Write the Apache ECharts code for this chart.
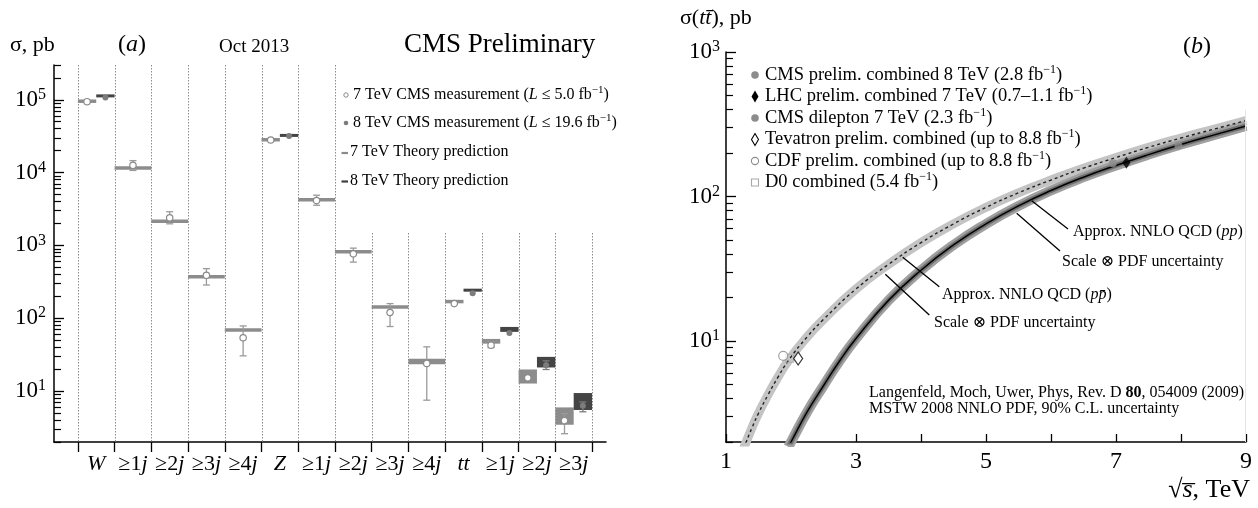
<!DOCTYPE html>
<html>
<head>
<meta charset="utf-8">
<script src="https://cdn.jsdelivr.net/npm/echarts@6/dist/echarts.min.js"></script>
<style>
  html, body { margin: 0; padding: 0; background: #fff; }
  #chart { width: 1258px; height: 508px; }
</style>
</head>
<body>
<div id="chart"></div>
<script>
// ---------- Panel (a): W, Z and tt cross sections vs jet multiplicity ----------
const categories = ['W', '≥1j', '≥2j', '≥3j', '≥4j', 'Z', '≥1j', '≥2j', '≥3j', '≥4j', 'tt', '≥1j', '≥2j', '≥3j'];

// 7 TeV theory prediction band (pb)
const theory7Lo = [93000, 11200, 2080, 360, 66, 27500, 4100, 790, 138, 23.4, 165, 44.8, 12.7, 3.45];
const theory7Hi = [98000, 12000, 2220, 385, 72, 29000, 4350, 850, 148, 27.7, 174, 52, 19.8, 5.97];
// 7 TeV measurement with its total uncertainty range (pb)
const meas7   = [94000, 12600, 2390, 388, 54, 28000, 4130, 766, 120, 24, 159, 42.7, 15.2, 3.92];
const meas7Lo = [91000, 10700, 1980, 286, 30.5, 27000, 3560, 590, 77, 7.5, 154, 39.6, 14.9, 2.6];
const meas7Hi = [97000, 14600, 2900, 480, 78.5, 29000, 4890, 918, 159, 40.5, 165, 47.9, 15.5, 4.9];

// 8 TeV results exist for these category indices only
const cats8     = [0, 5, 10, 11, 12, 13];
const theory8Lo = [110000, 31500, 236, 65, 21.1, 5.5];
const theory8Hi = [116000, 33300, 250, 76, 29.5, 9.4];
const meas8     = [107000, 31800, 220, 62.8, 22.7, 6.3];
const meas8Lo   = [103000, 30800, 207, 58, 19.8, 5.2];
const meas8Hi   = [111000, 32800, 232, 68.6, 26, 7.1];

// y-axis tick labels of panel (a)
const yLabelsA = [10, 100, 1000, 10000, 100000];

// ---------- Panel (b): tt cross section vs collision energy ----------
const ppEnergy    = [1.96, 2.0, 2.25, 2.5, 2.75, 3.0, 3.5, 4.0, 4.5, 5.0, 5.5, 6.0, 6.5, 7.0, 7.5, 8.0, 8.5, 9.0];
const ppSigma     = [1.85, 2.0, 3.24, 4.90, 7.30, 10.4, 19.1, 30.9, 46.2, 64.6, 86.1, 110, 136, 164, 195, 229, 266, 308];
const ppbarEnergy = [1.27, 1.31, 1.4, 1.5, 1.65, 1.8, 1.96, 2.25, 2.5, 3.0, 3.5, 4.0, 4.5, 5.0, 5.5, 6.0, 6.5, 7.0, 7.5, 8.0, 8.5, 9.0];
const ppbarSigma  = [1.8, 2.0, 2.51, 3.16, 4.27, 5.62, 7.33, 10.7, 14.1, 22.9, 33.9, 47.9, 64.6, 84.1, 106, 130, 157, 186, 219, 254, 292, 335];

// measured points: CMS 8 TeV, LHC 7 TeV, CMS dilepton 7 TeV, Tevatron, CDF, D0
const pointEnergy = [7.96, 7.16, 6.95, 2.11, 1.88, 1.98];
const pointSigma  = [225, 171, 170, 7.56, 7.9, 7.6];

const xLabelsB = [1, 3, 5, 7, 9];
const yLabelsB = [10, 100, 1000];

// ---------- helpers ----------
const FONT = '"Liberation Serif", "Times New Roman", "DejaVu Serif", serif';

function minorTicks(lo, hi) {
  const out = [];
  for (let e = -1; e <= 6; e++) {
    for (let m = 2; m <= 9; m++) {
      const v = m * Math.pow(10, e);
      if (v >= lo && v <= hi) out.push(v);
    }
  }
  return out;
}

function richSet(size) {
  return {
    i: { fontFamily: FONT, fontSize: size, fontStyle: 'italic', lineHeight: size + 4, color: '#000' },
    n: { fontFamily: FONT, fontSize: size, lineHeight: size + 4, color: '#000' },
    b: { fontFamily: FONT, fontSize: size, fontWeight: 'bold', lineHeight: size + 4, color: '#000' },
    s: { fontFamily: FONT, fontSize: Math.round(size * 0.66), lineHeight: Math.round(size * 0.66), verticalAlign: 'top', color: '#000' }
  };
}

function txt(x, y, text, size, align) {
  return {
    type: 'text', x: x, y: y, z: 20, silent: true,
    style: {
      text: text, rich: richSet(size), fontFamily: FONT, fontSize: size,
      lineHeight: size + 4, fill: '#000', align: align || 'left', verticalAlign: 'middle'
    }
  };
}

function seg(x1, y1, x2, y2, color, w) {
  return { type: 'line', z: 15, silent: true, shape: { x1: x1, y1: y1, x2: x2, y2: y2 }, style: { stroke: color || '#000', lineWidth: w || 1.3 } };
}

function catLabel(v) {
  const c = categories[Math.floor(v)];
  if (c === undefined) return '';
  if (c.charAt(0) === '≥') return '{n|' + c.slice(0, -1) + '}{i|' + c.slice(-1) + '}';
  return '{i|' + c + '}';
}

function powLabel(v) {
  return '{b|10}{e|' + Math.round(Math.log10(v)) + '}';
}

const powRich = {
  b: { fontFamily: FONT, fontSize: 23, lineHeight: 26, color: '#000' },
  e: { fontFamily: FONT, fontSize: 16, lineHeight: 15, verticalAlign: 'top', color: '#000' }
};

// ---------- panel (a) series data ----------
const th7Data = categories.map((c, i) => {
  const half = cats8.indexOf(i) >= 0;
  return [i, half ? i + 0.5 : i + 1, theory7Lo[i], theory7Hi[i]];
});
const th8Data = cats8.map((c, k) => [c + 0.5, c + 1, theory8Lo[k], theory8Hi[k]]);
const m7Data = categories.map((c, i) => [cats8.indexOf(i) >= 0 ? i + 0.25 : i + 0.5, meas7[i], meas7Lo[i], meas7Hi[i]]);
const m8Data = cats8.map((c, k) => [c + 0.75, meas8[k], meas8Lo[k], meas8Hi[k]]);
const boundaries = [];
for (let b = 0; b <= categories.length; b++) boundaries.push([b, 3e5]);

const LEGEND_CLEAR_Y = 233; // dotted separators right of the legend start below it

function boxRender(color, minH) {
  return function (params, api) {
    const p0 = api.coord([api.value(0), api.value(3)]);
    const p1 = api.coord([api.value(1), api.value(2)]);
    let y0 = p0[1], h = p1[1] - p0[1];
    if (h < minH) { const c = y0 + h / 2; y0 = c - minH / 2; h = minH; }
    return { type: 'rect', shape: { x: p0[0], y: y0, width: p1[0] - p0[0], height: h }, style: { fill: color } };
  };
}

function measRender(open) {
  return function (params, api) {
    const p = api.coord([api.value(0), api.value(1)]);
    const lo = api.coord([api.value(0), api.value(2)]);
    const hi = api.coord([api.value(0), api.value(3)]);
    const errStyle = { stroke: open ? '#9a9a9a' : '#7a7a7a', lineWidth: 1.3 };
    const children = [];
    if (lo[1] - hi[1] > 6) {
      const cap = 3.5;
      children.push({ type: 'line', shape: { x1: p[0], y1: lo[1], x2: p[0], y2: hi[1] }, style: errStyle });
      children.push({ type: 'line', shape: { x1: p[0] - cap, y1: lo[1], x2: p[0] + cap, y2: lo[1] }, style: errStyle });
      children.push({ type: 'line', shape: { x1: p[0] - cap, y1: hi[1], x2: p[0] + cap, y2: hi[1] }, style: errStyle });
    }
    children.push({
      type: 'circle', shape: { cx: p[0], cy: p[1], r: open ? 3.2 : 3 },
      style: open ? { fill: '#fff', stroke: '#8a8a8a', lineWidth: 1.2 } : { fill: '#7c7c7c' }
    });
    return { type: 'group', children: children };
  };
}

function sepRender(params, api) {
  const b = api.value(0);
  const top = api.coord([b, api.value(1)]);
  const bottom = params.coordSys.y + params.coordSys.height;
  const y0 = b >= 8 ? LEGEND_CLEAR_Y : top[1];
  return {
    type: 'line', shape: { x1: Math.round(top[0]) + 0.5, y1: y0, x2: Math.round(top[0]) + 0.5, y2: bottom },
    style: { stroke: '#8c8c8c', lineWidth: 1, lineDash: [1.5, 1.5] }
  };
}

// ---------- graphic texts ----------
const graphics = [
  // panel (a)
  txt(10, 45, 'σ, pb', 22),
  txt(118, 45, '(' + '{i|a}' + ')', 24),
  txt(219, 47, 'Oct 2013', 19),
  txt(404, 45, 'CMS Preliminary', 27),
  { type: 'circle', z: 20, silent: true, shape: { cx: 346, cy: 95, r: 2.2 }, style: { fill: '#fff', stroke: '#8a8a8a', lineWidth: 1 } },
  txt(353, 95, '7 TeV CMS measurement ({i|L} ≤ 5.0 fb{s|−1})', 16),
  { type: 'circle', z: 20, silent: true, shape: { cx: 346, cy: 123, r: 2.3 }, style: { fill: '#7c7c7c' } },
  txt(353, 123, '8 TeV CMS measurement ({i|L} ≤ 19.6 fb{s|−1})', 16),
  seg(341.5, 153, 348, 153, '#8a8a8a', 2.2),
  txt(350, 152, '7 TeV Theory prediction', 16),
  seg(341.5, 181.5, 348, 181.5, '#404040', 2.2),
  txt(350, 181, '8 TeV Theory prediction', 16),

  // panel (b)
  txt(680, 18, 'σ({i|tt\u0304}), pb', 22),
  txt(1183, 47, '(' + '{i|b}' + ')', 24),
  { type: 'circle', z: 20, silent: true, shape: { cx: 755, cy: 75, r: 3.8 }, style: { fill: '#8c8c8c' } },
  txt(765, 75, 'CMS prelim. combined 8 TeV (2.8 fb{s|−1})', 18.5),
  { type: 'polygon', z: 20, silent: true, shape: { points: [[755, 90.5], [758.5, 96.5], [755, 102.5], [751.5, 96.5]] }, style: { fill: '#000' } },
  txt(765, 96.5, 'LHC prelim. combined 7 TeV (0.7–1.1 fb{s|−1})', 18.5),
  { type: 'circle', z: 20, silent: true, shape: { cx: 755, cy: 118, r: 3.8 }, style: { fill: '#8c8c8c' } },
  txt(765, 118, 'CMS dilepton 7 TeV (2.3 fb{s|−1})', 18.5),
  { type: 'polygon', z: 20, silent: true, shape: { points: [[755, 133.5], [758.5, 139.5], [755, 145.5], [751.5, 139.5]] }, style: { fill: '#fff', stroke: '#000', lineWidth: 1.1 } },
  txt(765, 139.5, 'Tevatron prelim. combined (up to 8.8 fb{s|−1})', 18.5),
  { type: 'circle', z: 20, silent: true, shape: { cx: 755, cy: 161, r: 3.6 }, style: { fill: '#fff', stroke: '#8c8c8c', lineWidth: 1.1 } },
  txt(765, 161, 'CDF prelim. combined (up to 8.8 fb{s|−1})', 18.5),
  { type: 'rect', z: 20, silent: true, shape: { x: 751.5, y: 179, width: 7, height: 7 }, style: { fill: '#fff', stroke: '#a8a8a8', lineWidth: 1.1 } },
  txt(765, 182.5, 'D0 combined (5.4 fb{s|−1})', 18.5),

  seg(1031.7, 200.7, 1068, 229),
  txt(1073, 232, 'Approx. NNLO QCD ({i|pp})', 16),
  seg(1016.7, 213.3, 1060, 251),
  txt(1062, 262, 'Scale ⊗ PDF uncertainty', 16),
  seg(902.7, 257.3, 939.3, 286.7),
  txt(942, 295, 'Approx. NNLO QCD ({i|pp\u0304})', 16),
  seg(885.3, 274.3, 929.3, 315),
  txt(934, 323, 'Scale ⊗ PDF uncertainty', 16),
  txt(869, 393, 'Langenfeld, Moch, Uwer, Phys, Rev. D {b|80}, 054009 (2009)', 16),
  txt(869, 409, 'MSTW 2008 NNLO PDF, 90% C.L. uncertainty', 16),
  txt(1250, 490, '√{i|s\u0305}, TeV', 26, 'right'),
  seg(1245.5, 110, 1245.5, 442, '#e4e4e4', 1)
];

const axisLineStyle = { color: '#000', width: 1.5 };

const option = {
  animation: false,
  backgroundColor: '#fff',
  textStyle: { fontFamily: FONT },
  grid: [
    { left: 54, top: 65, width: 552, height: 377, containLabel: false, outerBoundsMode: 'none' },
    { left: 726, top: 52, width: 520, height: 390, containLabel: false, outerBoundsMode: 'none' }
  ],
  xAxis: [
    {
      gridIndex: 0, type: 'value', min: -0.65, max: 14.38, position: 'bottom',
      axisLine: { onZero: false, lineStyle: axisLineStyle },
      splitLine: { show: false },
      axisTick: { show: true, inside: false, length: 10, lineStyle: { color: '#000', width: 1.3 },
                  customValues: boundaries.map(b => b[0]) },
      axisLabel: { show: true, margin: 9, color: '#000', customValues: categories.map((c, i) => i + 0.5),
                   formatter: catLabel, rich: richSet(22) }
    },
    {
      gridIndex: 1, type: 'value', min: 1, max: 9, interval: 1, position: 'bottom',
      axisLine: { onZero: false, lineStyle: axisLineStyle },
      splitLine: { show: false },
      axisTick: { show: true, inside: true, length: 8, lineStyle: { color: '#000', width: 1.3 } },
      axisLabel: { show: true, margin: 8, fontFamily: FONT, fontSize: 24, color: '#000',
                   customValues: xLabelsB, formatter: v => String(v) }
    }
  ],
  yAxis: [
    {
      gridIndex: 0, type: 'log', logBase: 10, min: 2, max: 3e5, position: 'left', offset: 0,
      axisLine: { show: true, onZero: false, lineStyle: axisLineStyle },
      splitLine: { show: false },
      axisTick: { show: true, inside: true, length: 7, lineStyle: { color: '#000', width: 1.2 }, customValues: minorTicks(2, 3e5) },
      axisLabel: { show: false }
    },
    {
      gridIndex: 0, type: 'log', logBase: 10, min: 2, max: 3e5, position: 'left', offset: 0,
      axisLine: { show: false, onZero: false },
      splitLine: { show: false },
      axisTick: { show: true, inside: true, length: 10, lineStyle: { color: '#000', width: 1.3 }, customValues: yLabelsA },
      axisLabel: { show: true, margin: 8, color: '#000', customValues: yLabelsA, formatter: powLabel, rich: powRich }
    },
    {
      gridIndex: 1, type: 'log', logBase: 10, min: 2, max: 1000, position: 'left', offset: 0,
      axisLine: { show: true, onZero: false, lineStyle: axisLineStyle },
      splitLine: { show: false },
      axisTick: { show: true, inside: true, length: 7, lineStyle: { color: '#000', width: 1.2 }, customValues: minorTicks(2, 1000) },
      axisLabel: { show: false }
    },
    {
      gridIndex: 1, type: 'log', logBase: 10, min: 2, max: 1000, position: 'left', offset: 0,
      axisLine: { show: false, onZero: false },
      splitLine: { show: false },
      axisTick: { show: true, inside: true, length: 10, lineStyle: { color: '#000', width: 1.3 }, customValues: yLabelsB },
      axisLabel: { show: true, margin: 6, color: '#000', customValues: yLabelsB, formatter: powLabel, rich: powRich }
    }
  ],
  series: [
    // panel (a)
    { type: 'custom', name: 'separators', xAxisIndex: 0, yAxisIndex: 0, data: boundaries,
      encode: { x: 0, y: 1 }, renderItem: sepRender, silent: true, z: 1 },
    { type: 'custom', name: '7 TeV Theory prediction', xAxisIndex: 0, yAxisIndex: 0, data: th7Data,
      encode: { x: [0, 1], y: [2, 3] }, renderItem: boxRender('#8c8c8c', 3.5), z: 2 },
    { type: 'custom', name: '8 TeV Theory prediction', xAxisIndex: 0, yAxisIndex: 0, data: th8Data,
      encode: { x: [0, 1], y: [2, 3] }, renderItem: boxRender('#444444', 3), z: 2 },
    { type: 'custom', name: '7 TeV CMS measurement', xAxisIndex: 0, yAxisIndex: 0, data: m7Data,
      encode: { x: 0, y: [1, 2, 3] }, renderItem: measRender(true), z: 3 },
    { type: 'custom', name: '8 TeV CMS measurement', xAxisIndex: 0, yAxisIndex: 0, data: m8Data,
      encode: { x: 0, y: [1, 2, 3] }, renderItem: measRender(false), z: 3 },

    // panel (b): theory bands and central curves
    { type: 'line', name: 'ppbar band', xAxisIndex: 1, yAxisIndex: 2, smooth: 0.5, symbol: 'none', clip: true,
      data: ppbarEnergy.map((e, i) => [e, ppbarSigma[i]]), lineStyle: { color: '#c4c4c4', width: 9 }, z: 2 },
    { type: 'line', name: 'pp band', xAxisIndex: 1, yAxisIndex: 2, smooth: 0.5, symbol: 'none', clip: true,
      data: ppEnergy.map((e, i) => [e, ppSigma[i]]), lineStyle: { color: '#a0a0a0', width: 10 }, z: 2 },
    { type: 'line', name: 'pp band core', xAxisIndex: 1, yAxisIndex: 2, smooth: 0.5, symbol: 'none', clip: true,
      data: ppEnergy.map((e, i) => [e, ppSigma[i]]), lineStyle: { color: '#707070', width: 5 }, z: 3 },
    { type: 'line', name: 'Approx. NNLO QCD (ppbar)', xAxisIndex: 1, yAxisIndex: 2, smooth: 0.5, symbol: 'none', clip: true,
      data: ppbarEnergy.map((e, i) => [e, ppbarSigma[i]]), lineStyle: { color: '#222', width: 1.4, type: [3, 3] }, z: 4 },
    { type: 'line', name: 'Approx. NNLO QCD (pp)', xAxisIndex: 1, yAxisIndex: 2, smooth: 0.5, symbol: 'none', clip: true,
      data: ppEnergy.map((e, i) => [e, ppSigma[i]]), lineStyle: { color: '#000', width: 1.5 }, z: 4 },

    // panel (b): measurements
    { type: 'scatter', name: 'CMS dilepton 7 TeV', xAxisIndex: 1, yAxisIndex: 2, symbol: 'circle', symbolSize: 8,
      data: [[pointEnergy[2], pointSigma[2]]], itemStyle: { color: '#8c8c8c' }, z: 5 },
    { type: 'scatter', name: 'CMS prelim. combined 8 TeV', xAxisIndex: 1, yAxisIndex: 2, symbol: 'circle', symbolSize: 8,
      data: [[pointEnergy[0], pointSigma[0]]], itemStyle: { color: '#8c8c8c' }, z: 5 },
    { type: 'scatter', name: 'LHC prelim. combined 7 TeV', xAxisIndex: 1, yAxisIndex: 2, symbol: 'diamond', symbolSize: [8, 12],
      data: [[pointEnergy[1], pointSigma[1]]], itemStyle: { color: '#000' }, z: 6 },
    { type: 'scatter', name: 'D0 combined', xAxisIndex: 1, yAxisIndex: 2, symbol: 'rect', symbolSize: 8,
      data: [[pointEnergy[5], pointSigma[5]]], itemStyle: { color: 'rgba(255,255,255,0)', borderColor: '#a8a8a8', borderWidth: 1.1 }, z: 5 },
    { type: 'scatter', name: 'CDF prelim. combined', xAxisIndex: 1, yAxisIndex: 2, symbol: 'circle', symbolSize: 9,
      data: [[pointEnergy[4], pointSigma[4]]], itemStyle: { color: '#fff', borderColor: '#8c8c8c', borderWidth: 1.2 }, z: 5 },
    { type: 'scatter', name: 'Tevatron prelim. combined', xAxisIndex: 1, yAxisIndex: 2, symbol: 'diamond', symbolSize: [9, 13],
      data: [[pointEnergy[3], pointSigma[3]]], itemStyle: { color: '#fff', borderColor: '#000', borderWidth: 1.2 }, z: 6 }
  ],
  graphic: graphics
};

const chart = echarts.init(document.getElementById('chart'));
chart.setOption(option);
</script>
</body>
</html>
